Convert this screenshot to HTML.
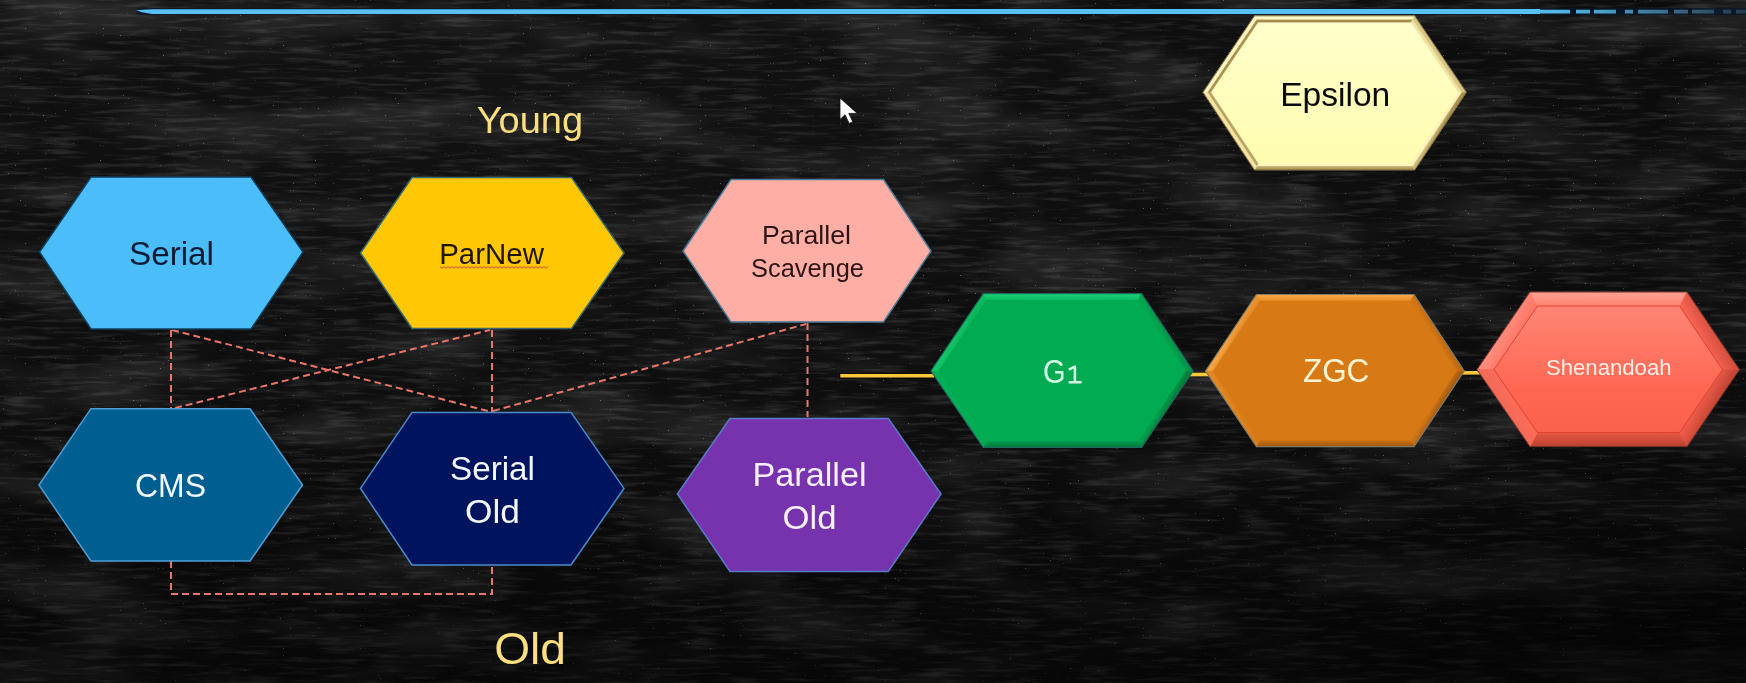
<!DOCTYPE html>
<html><head><meta charset="utf-8"><style>
html,body{margin:0;padding:0;background:#121212;}
body{width:1746px;height:683px;overflow:hidden;position:relative;}
svg{position:absolute;left:0;top:0;filter:blur(0.4px);}
text{font-family:"Liberation Sans",sans-serif;}
</style></head><body>
<svg width="1746" height="683" viewBox="0 0 1746 683">
<defs>
<linearGradient id="g1" gradientUnits="userSpaceOnUse" x1="957.15" y1="332.35" x2="962.37" y2="335.34"><stop offset="0" stop-color="#12c66a"/><stop offset="1" stop-color="#0ab75d"/></linearGradient>
<linearGradient id="g2" gradientUnits="userSpaceOnUse" x1="1062.40" y1="293.70" x2="1062.39" y2="299.70"><stop offset="0" stop-color="#1bd27a"/><stop offset="1" stop-color="#0cbd62"/></linearGradient>
<linearGradient id="g3" gradientUnits="userSpaceOnUse" x1="1167.25" y1="332.35" x2="1162.03" y2="335.34"><stop offset="0" stop-color="#03954a"/><stop offset="1" stop-color="#01a650"/></linearGradient>
<linearGradient id="g4" gradientUnits="userSpaceOnUse" x1="1167.25" y1="409.20" x2="1162.04" y2="406.19"><stop offset="0" stop-color="#027f3d"/><stop offset="1" stop-color="#019c4b"/></linearGradient>
<linearGradient id="g5" gradientUnits="userSpaceOnUse" x1="1062.40" y1="447.40" x2="1062.39" y2="441.40"><stop offset="0" stop-color="#027a3b"/><stop offset="1" stop-color="#019a4a"/></linearGradient>
<linearGradient id="g6" gradientUnits="userSpaceOnUse" x1="957.15" y1="409.20" x2="962.36" y2="406.19"><stop offset="0" stop-color="#06b057"/><stop offset="1" stop-color="#02ac54"/></linearGradient>
<linearGradient id="g7" gradientUnits="userSpaceOnUse" x1="1231.05" y1="332.75" x2="1236.27" y2="335.74"><stop offset="0" stop-color="#f7a445"/><stop offset="1" stop-color="#e68d29"/></linearGradient>
<linearGradient id="g8" gradientUnits="userSpaceOnUse" x1="1335.25" y1="294.50" x2="1335.24" y2="300.50"><stop offset="0" stop-color="#faa94b"/><stop offset="1" stop-color="#e8902b"/></linearGradient>
<linearGradient id="g9" gradientUnits="userSpaceOnUse" x1="1439.10" y1="332.75" x2="1433.89" y2="335.74"><stop offset="0" stop-color="#bf6912"/><stop offset="1" stop-color="#d27714"/></linearGradient>
<linearGradient id="g10" gradientUnits="userSpaceOnUse" x1="1439.10" y1="408.80" x2="1433.90" y2="405.79"><stop offset="0" stop-color="#a85b10"/><stop offset="1" stop-color="#cb7213"/></linearGradient>
<linearGradient id="g11" gradientUnits="userSpaceOnUse" x1="1335.25" y1="446.60" x2="1335.24" y2="440.60"><stop offset="0" stop-color="#a05610"/><stop offset="1" stop-color="#c86f13"/></linearGradient>
<linearGradient id="g12" gradientUnits="userSpaceOnUse" x1="1231.05" y1="408.80" x2="1236.26" y2="405.79"><stop offset="0" stop-color="#e38923"/><stop offset="1" stop-color="#d97c17"/></linearGradient>
<linearGradient id="shenfill" x1="0" y1="0" x2="0" y2="1"><stop offset="0" stop-color="#ff8a7a"/><stop offset="0.65" stop-color="#ff6651"/><stop offset="1" stop-color="#fa5f4b"/></linearGradient>
<linearGradient id="g13" gradientUnits="userSpaceOnUse" x1="1503.50" y1="330.80" x2="1515.68" y2="337.78"><stop offset="0" stop-color="#ff8c7c"/><stop offset="1" stop-color="#ff7867"/></linearGradient>
<linearGradient id="g14" gradientUnits="userSpaceOnUse" x1="1608.50" y1="292.00" x2="1608.48" y2="306.00"><stop offset="0" stop-color="#ffa292"/><stop offset="1" stop-color="#ff8373"/></linearGradient>
<linearGradient id="g15" gradientUnits="userSpaceOnUse" x1="1713.20" y1="330.80" x2="1701.02" y2="337.78"><stop offset="0" stop-color="#d7503f"/><stop offset="1" stop-color="#f56352"/></linearGradient>
<linearGradient id="g16" gradientUnits="userSpaceOnUse" x1="1713.20" y1="408.10" x2="1701.04" y2="401.08"><stop offset="0" stop-color="#c64534"/><stop offset="1" stop-color="#ec5b49"/></linearGradient>
<linearGradient id="g17" gradientUnits="userSpaceOnUse" x1="1608.50" y1="446.60" x2="1608.48" y2="432.60"><stop offset="0" stop-color="#bd4131"/><stop offset="1" stop-color="#e65745"/></linearGradient>
<linearGradient id="g18" gradientUnits="userSpaceOnUse" x1="1503.50" y1="408.10" x2="1515.67" y2="401.08"><stop offset="0" stop-color="#f26a58"/><stop offset="1" stop-color="#fc6c58"/></linearGradient>
<linearGradient id="epsfill" x1="0" y1="0" x2="0" y2="1"><stop offset="0" stop-color="#ffffcc"/><stop offset="1" stop-color="#fefcae"/></linearGradient>
<linearGradient id="g19" gradientUnits="userSpaceOnUse" x1="1440.45" y1="131.15" x2="1436.97" y2="129.16"><stop offset="0" stop-color="#a88f4e"/><stop offset="1" stop-color="#cdb977"/></linearGradient>
<linearGradient id="g20" gradientUnits="userSpaceOnUse" x1="1334.60" y1="170.00" x2="1334.60" y2="166.00"><stop offset="0" stop-color="#a28a4a"/><stop offset="1" stop-color="#cab574"/></linearGradient>
</defs>
<filter id="chalk" x="0" y="0" width="1746" height="683" filterUnits="userSpaceOnUse">
<feTurbulence type="fractalNoise" baseFrequency="0.025 0.22" numOctaves="3" seed="11" result="n"/>
<feColorMatrix in="n" type="matrix" values="0 0 0 0 1  0 0 0 0 1  0 0 0 0 1  3.2 0 0 0 -1.55"/>
</filter>
<filter id="blotch" x="0" y="0" width="1746" height="683" filterUnits="userSpaceOnUse">
<feTurbulence type="fractalNoise" baseFrequency="0.006 0.02" numOctaves="3" seed="5" result="n"/>
<feColorMatrix in="n" type="matrix" values="0 0 0 0 1  0 0 0 0 1  0 0 0 0 1  2.5 0 0 0 -1.1"/>
</filter>
<filter id="speck" x="0" y="0" width="1746" height="683" filterUnits="userSpaceOnUse">
<feTurbulence type="fractalNoise" baseFrequency="0.6" numOctaves="1" seed="3" result="n"/>
<feColorMatrix in="n" type="matrix" values="0 0 0 0 1  0 0 0 0 1  0 0 0 0 1  12 0 0 0 -8.9"/>
</filter>
<radialGradient id="bgA" cx="0.3" cy="0.15" r="0.7">
<stop offset="0" stop-color="#fff" stop-opacity="0.025"/>
<stop offset="1" stop-color="#fff" stop-opacity="0"/>
</radialGradient>
<radialGradient id="bgB" cx="0.95" cy="0.95" r="0.35">
<stop offset="0" stop-color="#000" stop-opacity="0.5"/>
<stop offset="1" stop-color="#000" stop-opacity="0"/>
</radialGradient>
<rect width="1746" height="683" fill="#0c0c0c"/>
<rect width="1746" height="683" filter="url(#blotch)" opacity="0.10"/>
<rect width="1746" height="683" filter="url(#chalk)" opacity="0.10"/>
<rect width="1746" height="683" filter="url(#speck)" opacity="0.35"/>
<rect width="1746" height="683" fill="url(#bgA)"/>
<rect width="1746" height="683" fill="url(#bgB)"/>
<linearGradient id="bgC" gradientUnits="userSpaceOnUse" x1="0" y1="430" x2="0" y2="683"><stop offset="0" stop-color="#000" stop-opacity="0"/><stop offset="1" stop-color="#000" stop-opacity="0.4"/></linearGradient>
<rect width="1746" height="683" fill="url(#bgC)"/>

<linearGradient id="bluefade" gradientUnits="userSpaceOnUse" x1="1540" y1="0" x2="1746" y2="0"><stop offset="0" stop-color="#55bbec" stop-opacity="1"/><stop offset="0.3" stop-color="#55bbec" stop-opacity="0.85"/><stop offset="1" stop-color="#6a9ab8" stop-opacity="0.25"/></linearGradient>
<path d="M140,11.6 L1746,11.6" stroke="#06182a" stroke-width="7" opacity="0.7" stroke-linecap="round"/>
<polygon points="136,10.2 152,9.2 1540,9.0 1540,14.0 152,14.0 142,12.2" fill="#58c0f2"/>
<path d="M1540,11.6 L1746,11.6" stroke="url(#bluefade)" stroke-width="3.6" stroke-dasharray="30 6 14 4 22 9 8 5"/>

<g stroke="#e8766c" stroke-width="2" stroke-dasharray="7 4" fill="none">
<path d="M171,330 V408"/>
<path d="M492,330 V412"/>
<path d="M172,330 L490,411.5"/>
<path d="M175,408 L490,330"/>
<path d="M493,411 L806,324"/>
<path d="M807.5,323 V417"/>
<path d="M171,561 V594 H492 V566"/>
</g>
<g stroke="#0a0600" stroke-width="6" opacity="0.6">
<path d="M839,375.7 H932"/>
</g>
<g stroke="#f6c83a" stroke-width="3.6">
<path d="M840.3,375.7 H934"/>
<path d="M1190,374.5 H1209"/>
<path d="M1461,372.8 H1480"/>
</g>
<polygon points="39.50,252.00 91.00,177.00 251.00,177.00 303.00,252.00 251.00,329.00 91.00,329.00" fill="#4bbef9" stroke="#123f5c" stroke-width="1.5"/>
<polygon points="360.50,253.00 412.00,177.50 571.50,177.50 624.00,253.00 571.50,328.50 412.00,328.50" fill="#ffc704" stroke="#3a6870" stroke-width="1.5"/>
<polygon points="683.00,251.00 731.00,179.50 883.50,179.50 931.00,251.00 883.50,322.00 731.00,322.00" fill="#ffaea6" stroke="#4a7a94" stroke-width="1.5"/>
<polygon points="39.00,485.00 91.00,408.70 250.00,408.70 302.50,485.00 250.00,561.00 91.00,561.00" fill="#005e91" stroke="#4d9fd6" stroke-width="1.5"/>
<polygon points="360.50,488.40 412.00,412.40 571.00,412.40 624.00,488.40 571.00,565.00 412.00,565.00" fill="#00135d" stroke="#4a8ccc" stroke-width="1.5"/>
<polygon points="677.40,494.00 730.00,418.50 888.30,418.50 941.00,494.00 888.30,571.40 730.00,571.40" fill="#7633ad" stroke="#5a7cc8" stroke-width="1.5"/>
<polygon points="931.00,371.00 983.30,293.70 1141.50,293.70 1193.00,371.00 1141.50,447.40 983.30,447.40" fill="#00ab52"/>
<polygon points="931.00,371.00 983.30,293.70 986.48,299.70 938.26,370.98" fill="url(#g1)" stroke="url(#g1)" stroke-width="0.3"/>
<polygon points="983.30,293.70 1141.50,293.70 1138.29,299.70 986.48,299.70" fill="url(#g2)" stroke="url(#g2)" stroke-width="0.3"/>
<polygon points="1141.50,293.70 1193.00,371.00 1185.78,370.98 1138.29,299.70" fill="url(#g3)" stroke="url(#g3)" stroke-width="0.3"/>
<polygon points="1193.00,371.00 1141.50,447.40 1138.31,441.40 1185.78,370.98" fill="url(#g4)" stroke="url(#g4)" stroke-width="0.3"/>
<polygon points="1141.50,447.40 983.30,447.40 986.46,441.40 1138.31,441.40" fill="url(#g5)" stroke="url(#g5)" stroke-width="0.3"/>
<polygon points="983.30,447.40 931.00,371.00 938.26,370.98 986.46,441.40" fill="url(#g6)" stroke="url(#g6)" stroke-width="0.3"/>
<polygon points="931.00,371.00 983.30,293.70 1141.50,293.70 1193.00,371.00 1141.50,447.40 983.30,447.40" fill="none" stroke="#1d6b5c" stroke-width="1.2"/>
<polygon points="1205.60,371.00 1256.50,294.50 1414.00,294.50 1464.20,371.00 1414.00,446.60 1256.50,446.60" fill="#d77a15"/>
<polygon points="1205.60,371.00 1256.50,294.50 1259.71,300.50 1212.82,370.98" fill="url(#g7)" stroke="url(#g7)" stroke-width="0.3"/>
<polygon points="1256.50,294.50 1414.00,294.50 1410.76,300.50 1259.71,300.50" fill="url(#g8)" stroke="url(#g8)" stroke-width="0.3"/>
<polygon points="1414.00,294.50 1464.20,371.00 1457.01,370.98 1410.76,300.50" fill="url(#g9)" stroke="url(#g9)" stroke-width="0.3"/>
<polygon points="1464.20,371.00 1414.00,446.60 1410.78,440.60 1457.01,370.98" fill="url(#g10)" stroke="url(#g10)" stroke-width="0.3"/>
<polygon points="1414.00,446.60 1256.50,446.60 1259.69,440.60 1410.78,440.60" fill="url(#g11)" stroke="url(#g11)" stroke-width="0.3"/>
<polygon points="1256.50,446.60 1205.60,371.00 1212.82,370.98 1259.69,440.60" fill="url(#g12)" stroke="url(#g12)" stroke-width="0.3"/>
<polygon points="1205.60,371.00 1256.50,294.50 1414.00,294.50 1464.20,371.00 1414.00,446.60 1256.50,446.60" fill="none" stroke="#7d7a68" stroke-width="1.2"/>
<polygon points="1477.00,369.60 1530.00,292.00 1687.00,292.00 1739.40,369.60 1687.00,446.60 1530.00,446.60" fill="url(#shenfill)"/>
<polygon points="1477.00,369.60 1530.00,292.00 1537.39,306.00 1493.97,369.57" fill="url(#g13)" stroke="url(#g13)" stroke-width="0.3"/>
<polygon points="1530.00,292.00 1687.00,292.00 1679.56,306.00 1537.39,306.00" fill="url(#g14)" stroke="url(#g14)" stroke-width="0.3"/>
<polygon points="1687.00,292.00 1739.40,369.60 1722.49,369.57 1679.56,306.00" fill="url(#g15)" stroke="url(#g15)" stroke-width="0.3"/>
<polygon points="1739.40,369.60 1687.00,446.60 1679.59,432.60 1722.49,369.57" fill="url(#g16)" stroke="url(#g16)" stroke-width="0.3"/>
<polygon points="1687.00,446.60 1530.00,446.60 1537.36,432.60 1679.59,432.60" fill="url(#g17)" stroke="url(#g17)" stroke-width="0.3"/>
<polygon points="1530.00,446.60 1477.00,369.60 1493.97,369.57 1537.36,432.60" fill="url(#g18)" stroke="url(#g18)" stroke-width="0.3"/>
<polygon points="1493.97,369.57 1537.39,306.00 1679.56,306.00 1722.49,369.57 1679.59,432.60 1537.36,432.60" fill="none" stroke="#e2412f" stroke-width="1.0"/>
<polygon points="1477.00,369.60 1530.00,292.00 1687.00,292.00 1739.40,369.60 1687.00,446.60 1530.00,446.60" fill="none" stroke="#6a3028" stroke-width="1.0"/>
<polygon points="1203.00,92.30 1254.60,15.80 1414.60,15.80 1466.30,92.30 1414.60,170.00 1254.60,170.00" fill="url(#epsfill)"/>
<polygon points="1203.00,92.30 1254.60,15.80 1256.73,19.80 1207.81,92.32" fill="#fff6c4" stroke="#fff6c4" stroke-width="0.3"/>
<polygon points="1254.60,15.80 1414.60,15.80 1412.48,19.80 1256.73,19.80" fill="#fff8c8" stroke="#fff8c8" stroke-width="0.3"/>
<polygon points="1414.60,15.80 1466.30,92.30 1461.48,92.32 1412.48,19.80" fill="#d9c684" stroke="#d9c684" stroke-width="0.3"/>
<polygon points="1466.30,92.30 1414.60,170.00 1412.46,166.00 1461.48,92.32" fill="url(#g19)" stroke="url(#g19)" stroke-width="0.3"/>
<polygon points="1414.60,170.00 1254.60,170.00 1256.75,166.00 1412.46,166.00" fill="url(#g20)" stroke="url(#g20)" stroke-width="0.3"/>
<polygon points="1254.60,170.00 1203.00,92.30 1207.81,92.32 1256.75,166.00" fill="#f3e4a6" stroke="#f3e4a6" stroke-width="0.3"/>
<polygon points="1207.81,92.32 1256.73,19.80 1258.06,22.30 1210.82,92.33" fill="#a8904e" stroke="#a8904e" stroke-width="0.3"/>
<polygon points="1256.73,19.80 1412.48,19.80 1411.15,22.30 1258.06,22.30" fill="#a58d4c" stroke="#a58d4c" stroke-width="0.3"/>
<polygon points="1412.48,19.80 1461.48,92.32 1458.47,92.33 1411.15,22.30" fill="#efe2a2" stroke="#efe2a2" stroke-width="0.3"/>
<polygon points="1461.48,92.32 1412.46,166.00 1411.12,163.50 1458.47,92.33" fill="#fbf3b8" stroke="#fbf3b8" stroke-width="0.3"/>
<polygon points="1412.46,166.00 1256.75,166.00 1258.09,163.50 1411.12,163.50" fill="#fdf5ba" stroke="#fdf5ba" stroke-width="0.3"/>
<polygon points="1256.75,166.00 1207.81,92.32 1210.82,92.33 1258.09,163.50" fill="#b9a462" stroke="#b9a462" stroke-width="0.3"/>
<polygon points="1203.00,92.30 1254.60,15.80 1414.60,15.80 1466.30,92.30 1414.60,170.00 1254.60,170.00" fill="none" stroke="#7f6d40" stroke-width="1.0"/>
<text x="171.5" y="265.1" font-size="33.4" fill="#0b1b35" text-anchor="middle" textLength="85.0" lengthAdjust="spacingAndGlyphs">Serial</text>
<text x="491.6" y="264.1" font-size="29" fill="#1f1400" text-anchor="middle" textLength="104.8" lengthAdjust="spacingAndGlyphs">ParNew</text>
<text x="806.5" y="243.7" font-size="25" fill="#2a1414" text-anchor="middle" textLength="89.0" lengthAdjust="spacingAndGlyphs">Parallel</text>
<text x="807.5" y="277" font-size="25" fill="#2a1414" text-anchor="middle" textLength="113.0" lengthAdjust="spacingAndGlyphs">Scavenge</text>
<text x="170.5" y="496.6" font-size="34" fill="#f2f8ff" text-anchor="middle" textLength="71.0" lengthAdjust="spacingAndGlyphs">CMS</text>
<text x="492.5" y="480" font-size="34" fill="#f2f6ff" text-anchor="middle" textLength="85.0" lengthAdjust="spacingAndGlyphs">Serial</text>
<text x="492.5" y="522.5" font-size="34" fill="#f2f6ff" text-anchor="middle" textLength="55.0" lengthAdjust="spacingAndGlyphs">Old</text>
<text x="809.55" y="486" font-size="34" fill="#f6f0ff" text-anchor="middle" textLength="114.1" lengthAdjust="spacingAndGlyphs">Parallel</text>
<text x="809.55" y="529.2" font-size="34" fill="#f6f0ff" text-anchor="middle" textLength="54.1" lengthAdjust="spacingAndGlyphs">Old</text>
<text x="1336.15" y="382.3" font-size="34" fill="#fff4d4" text-anchor="middle" textLength="66.4" lengthAdjust="spacingAndGlyphs">ZGC</text>
<text x="1608.75" y="375.4" font-size="22" fill="#ffeee8" text-anchor="middle" textLength="125.6" lengthAdjust="spacingAndGlyphs">Shenandoah</text>
<text x="1335.25" y="105.5" font-size="33.5" fill="#0a0a0a" text-anchor="middle" textLength="110.1" lengthAdjust="spacingAndGlyphs">Epsilon</text>
<text x="529.85" y="133" font-size="37" fill="#fadf80" text-anchor="middle" textLength="106.4" lengthAdjust="spacingAndGlyphs">Young</text>
<text x="530.1" y="663.8" font-size="45" fill="#fadf80" text-anchor="middle" textLength="71.8" lengthAdjust="spacingAndGlyphs">Old</text>
<text x="1054.3" y="383.3" font-size="34" fill="#d6fbe6" text-anchor="middle" textLength="22.6" lengthAdjust="spacingAndGlyphs">G</text>
<path d="M1068.8,369.6 L1074.9,366.6 V382.2 M1068.6,382.2 H1081.6" stroke="#d6fbe6" stroke-width="2.5" fill="none" stroke-linejoin="round"/>
<path d="M440,267 L442,268.2 L444,266.7 L446,268.2 L448,266.7 L450,268.2 L452,266.7 L454,268.2 L456,266.7 L458,268.2 L460,266.7 L462,268.2 L464,266.7 L466,268.2 L468,266.7 L470,268.2 L472,266.7 L474,268.2 L476,266.7 L478,268.2 L480,266.7 L482,268.2 L484,266.7 L486,268.2 L488,266.7 L490,268.2 L492,266.7 L494,268.2 L496,266.7 L498,268.2 L500,266.7 L502,268.2 L504,266.7 L506,268.2 L508,266.7 L510,268.2 L512,266.7 L514,268.2 L516,266.7 L518,268.2 L520,266.7 L522,268.2 L524,266.7 L526,268.2 L528,266.7 L530,268.2 L532,266.7 L534,268.2 L536,266.7 L538,268.2 L540,266.7 L542,268.2 L544,266.7 L546,268.2 L548,266.7" stroke="#e0503a" stroke-width="1" fill="none"/>
<path d="M840,98 L840,119.5 L845,114.8 L849.2,123.4 L852.8,121.8 L848.8,113.4 L857.3,113.4 Z" fill="#fff" stroke="#111" stroke-width="0.8"/>
</svg>
</body></html>
